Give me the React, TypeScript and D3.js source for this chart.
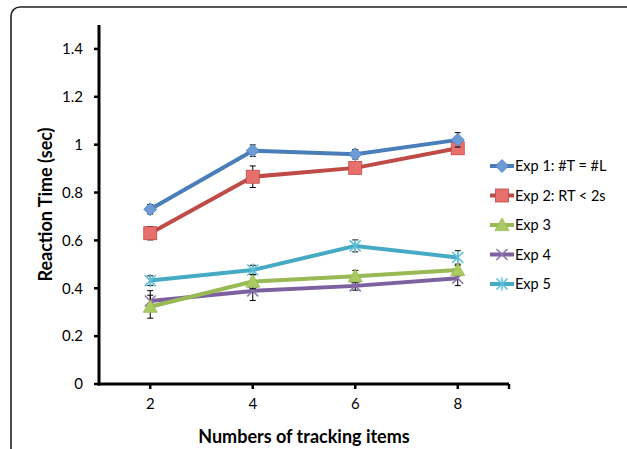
import React from "react";
import * as d3 from "d3";

const categories = ["2", "4", "6", "8"];
const seriesNames = ["Exp 1: #T = #L", "Exp 2: RT < 2s", "Exp 3", "Exp 4", "Exp 5"];
const exp1 = [0.73, 0.975, 0.96, 1.02];
const exp2 = [0.63, 0.866, 0.903, 0.985];
const exp3 = [0.323, 0.428, 0.45, 0.476];
const exp4 = [0.347, 0.389, 0.41, 0.442];
const exp5 = [0.432, 0.476, 0.577, 0.529];
const err1 = [0.02, 0.024, 0.02, 0.03];
const err2 = [0.028, 0.045, 0.02, 0.02];
const err3 = [0.048, 0.03, 0.025, 0.02];
const err4 = [0.043, 0.04, 0.018, 0.031];
const err5 = [0.02, 0.02, 0.025, 0.028];
const yTicks = [0, 0.2, 0.4, 0.6, 0.8, 1, 1.2, 1.4];

const colors = ["#4A7EBB", "#BE4B48", "#98B954", "#7D60A0", "#46AAC5"];
const fills = ["#6E9BD6", "#E8706C", "#A9CB62", "#8E72B3", "#5CC0DA"];
const markers = ["diamond", "square", "triangle", "x", "star"];

const FONT = "Lato, 'Open Sans', sans-serif";

function Marker({ type, x, y, color, fill }: any) {
  if (type === "diamond") {
    const s = 6.5;
    return <path d={`M${x},${y - s}L${x + s},${y}L${x},${y + s}L${x - s},${y}Z`} fill={fill} stroke={color} strokeWidth={0.8} />;
  }
  if (type === "square") {
    const s = 6.5;
    return <rect x={x - s} y={y - s} width={2 * s} height={2 * s} fill={fill} stroke={color} strokeWidth={0.8} />;
  }
  if (type === "triangle") {
    const s = 7;
    return <path d={`M${x},${y - s}L${x + s},${y + s * 0.8}L${x - s},${y + s * 0.8}Z`} fill={fill} stroke={color} strokeWidth={0.8} />;
  }
  if (type === "x") {
    const s = 5.5;
    return <path d={`M${x - s},${y - s}L${x + s},${y + s}M${x - s},${y + s}L${x + s},${y - s}`} stroke={fill} strokeWidth={1.5} />;
  }
  const s = 5.5;
  return (
    <path
      d={`M${x - s},${y - s}L${x + s},${y + s}M${x - s},${y + s}L${x + s},${y - s}M${x},${y - s - 1}L${x},${y + s + 1}`}
      stroke={fill}
      strokeWidth={1.5}
    />
  );
}

export default function App() {
  const W = 627, H = 449;
  const left = 99, right = 509, top = 25, bottom = 384;
  const x = d3.scaleBand<string>().domain(categories).range([left, right]);
  const y = d3.scaleLinear().domain([0, 1.5]).range([bottom, top]);
  const cx = (c: string) => (x(c) as number) + x.bandwidth() / 2;
  const data = [exp1, exp2, exp3, exp4, exp5];
  const errs = [err1, err2, err3, err4, err5];
  const line = d3.line<number>().x((_, i) => cx(categories[i])).y((d) => y(d));
  const drawOrder = [4, 3, 2, 1, 0];

  return (
    <svg width={W} height={H} style={{ position: "absolute", left: 0, top: 0 }}>
      <rect x={0} y={0} width={W} height={H} fill="#fff" />
      <rect x={11} y={7} width={W + 20} height={H + 20} rx={9} ry={9} fill="none" stroke="#222" strokeWidth={1.6} />
      {/* axes */}
      <line x1={left} y1={top} x2={left} y2={bottom + 1.5} stroke="#000" strokeWidth={3} />
      <line x1={left - 1.5} y1={bottom} x2={right} y2={bottom} stroke="#000" strokeWidth={3} />
      {yTicks.map((t) => (
        <g key={t}>
          <line x1={left - 5} x2={left} y1={y(t)} y2={y(t)} stroke="#000" strokeWidth={2.5} />
          <text x={left - 16} y={y(t)} dy="0.35em" textAnchor="end" fontFamily={FONT} fontSize={15} fill="#000">
            {d3.format("")(t)}
          </text>
        </g>
      ))}
      {categories.map((c) => (
        <g key={c}>
          <line x1={cx(c)} x2={cx(c)} y1={bottom} y2={bottom + 5} stroke="#000" strokeWidth={2.5} />
          <text x={cx(c)} y={bottom + 25} textAnchor="middle" fontFamily={FONT} fontSize={15} fill="#000">
            {c}
          </text>
        </g>
      ))}
      <line x1={right} x2={right} y1={bottom} y2={bottom + 5} stroke="#000" strokeWidth={2.5} />
      <text x={(left + right) / 2} y={443} textAnchor="middle" fontFamily={FONT} fontWeight="bold" fontSize={18} fill="#000">
        Numbers of tracking items
      </text>
      <text
        transform={`translate(52,${(top + bottom) / 2}) rotate(-90)`}
        textAnchor="middle"
        fontFamily={FONT}
        fontWeight="bold"
        fontSize={18}
        fill="#000"
      >
        Reaction Time (sec)
      </text>
      {/* series */}
      {drawOrder.map((si) => (
        <g key={si}>
          <path d={line(data[si]) as string} fill="none" stroke={colors[si]} strokeWidth={4} strokeLinejoin="round" />
          {data[si].map((v, i) => {
            const px = cx(categories[i]);
            const e = errs[si][i];
            return (
              <g key={i}>
                <path
                  d={`M${px},${y(v + e)}L${px},${y(v - e)}M${px - 3},${y(v + e)}L${px + 3},${y(v + e)}M${px - 3},${y(v - e)}L${px + 3},${y(v - e)}`}
                  stroke="#000"
                  strokeWidth={1}
                />
                <Marker type={markers[si]} x={px} y={y(v)} color={colors[si]} fill={fills[si]} />
              </g>
            );
          })}
        </g>
      ))}
      {/* legend */}
      {seriesNames.map((n, i) => {
        const ly = 166 + i * 29.5;
        return (
          <g key={n}>
            <line x1={490} x2={514} y1={ly} y2={ly} stroke={colors[i]} strokeWidth={4} />
            <Marker type={markers[i]} x={502} y={ly} color={colors[i]} fill={fills[i]} />
            <text x={515} y={ly} dy="0.35em" fontFamily={FONT} fontSize={14.5} fill="#000">
              {n}
            </text>
          </g>
        );
      })}
    </svg>
  );
}
